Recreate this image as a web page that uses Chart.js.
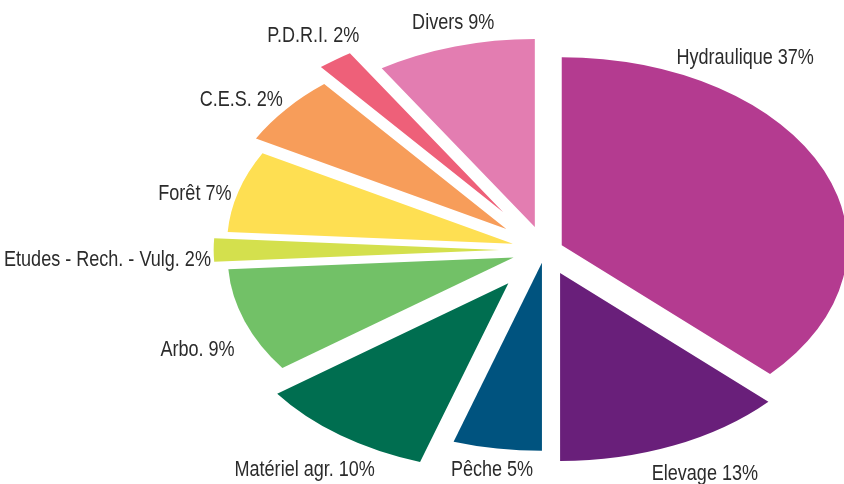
<!DOCTYPE html>
<html>
<head>
<meta charset="utf-8">
<script src="https://cdn.jsdelivr.net/npm/chart.js@4.4.1/dist/chart.umd.min.js"></script>
<style>
  html, body { margin: 0; padding: 0; background: #fff; }
</style>
</head>
<body>
<canvas id="grafico" width="844" height="484"></canvas>
<script>
// données
const categories = ['Hydraulique', 'Elevage', 'Pêche', 'Matériel agr.', 'Arbo.', 'Etudes - Rech. - Vulg.', 'Forêt', 'C.E.S.', 'P.D.R.I.', 'Divers'];
const pourcentsAffiches = [37, 13, 5, 10, 9, 2, 7, 2, 2, 9];   // texte imprimé
const valeurs = [37, 13, 5, 10, 9, 2, 7, 6, 2, 9];             // taille des parts
const couleurs = ['#b43b90', '#691f7a', '#00537f', '#006e50', '#72c167', '#d4e04d', '#fedf52', '#f79d5a', '#ee6079', '#e37db1'];

// mise en forme
const ETIREMENT = 1.52;                                   // camembert elliptique
const ecart = [12, 25, 13, 41, 22, 30, 22, 33, 47, 24];   // éclatement des parts
const distEtiquette = [1.24, 1.314, 1.185, 1.441, 1.327, 1.532, 1.261, 1.329, 1.40, 1.249];
const decalEtiquette = [-32.2, -1.8, 0, -0.3, -3.8, -2, -2.5, -2.7, 0.6, 1.3];
const ETROIT = 0.82;                                      // police condensée

const camembertEclate = {
  id: 'camembertEclate',
  beforeDatasetsDraw(chart) {
    const ctx = chart.ctx;
    const arcs = chart.getDatasetMeta(0).data;
    arcs.forEach((arc, i) => {
      const mid = (arc.startAngle + arc.endAngle) / 2;
      ctx.save();
      ctx.translate(arc.x, arc.y);
      ctx.scale(ETIREMENT, 1);
      ctx.translate(-arc.x, -arc.y);
      ctx.translate(Math.cos(mid) * ecart[i], Math.sin(mid) * ecart[i]);
      arc.draw(ctx);
      ctx.restore();
    });
    return false;
  },
  afterDraw(chart) {
    const ctx = chart.ctx;
    const arcs = chart.getDatasetMeta(0).data;
    ctx.save();
    ctx.font = '22px "Liberation Sans", Arial, sans-serif';
    ctx.fillStyle = '#2b2b2b';
    ctx.textAlign = 'center';
    ctx.textBaseline = 'middle';
    arcs.forEach((arc, i) => {
      const a = (arc.startAngle + arc.endAngle) / 2 + decalEtiquette[i] * Math.PI / 180;
      const r = arc.outerRadius * distEtiquette[i];
      const x = arc.x + Math.cos(a) * r * ETIREMENT;
      const y = arc.y + Math.sin(a) * r;
      ctx.save();
      ctx.translate(x, y);
      ctx.scale(ETROIT, 1);
      ctx.fillText(`${categories[i]} ${pourcentsAffiches[i]}%`, 0, 0);
      ctx.restore();
    });
    ctx.restore();
  }
};

const ctx = document.getElementById('grafico').getContext('2d');
const grafico = new Chart(ctx, {
  type: 'pie',
  data: {
    labels: categories,
    datasets: [{
      data: valeurs,
      backgroundColor: couleurs,
      borderWidth: 0,
      clip: false
    }]
  },
  options: {
    responsive: false,
    animation: false,
    devicePixelRatio: 1,
    events: [],
    radius: 188,
    layout: { padding: { left: 246, top: 16, right: 0, bottom: 0 } },
    plugins: {
      legend: { display: false },
      tooltip: { enabled: false }
    }
  },
  plugins: [camembertEclate]
});
</script>
</body>
</html>
